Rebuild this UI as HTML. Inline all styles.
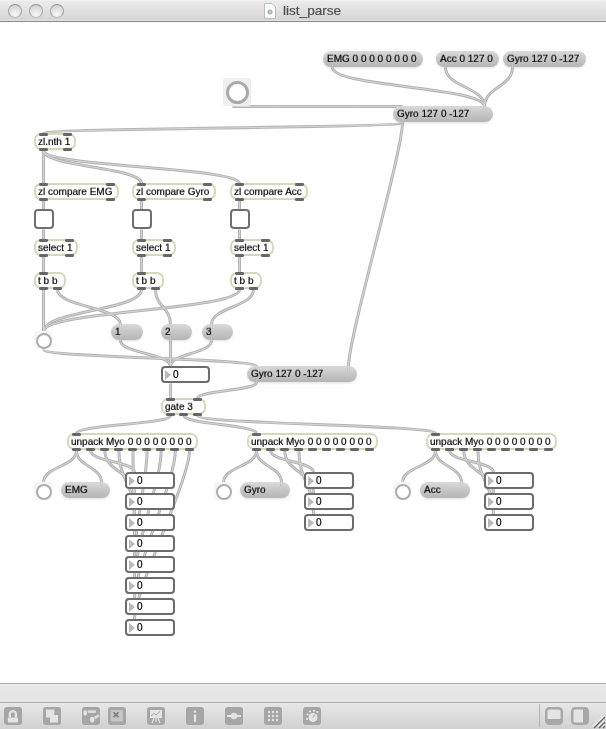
<!DOCTYPE html><html><head><meta charset="utf-8"><style>

*{box-sizing:border-box;margin:0;padding:0}
body *{will-change:transform}
html,body{width:606px;height:729px;overflow:hidden;background:#fff;font-family:"Liberation Sans", sans-serif}
.tb{position:absolute;left:0;top:0;width:606px;height:22px;background:linear-gradient(#f4f4f4 0,#ececec 1px,#d6d6d6 20px,#e2e2e2 20px);border-bottom:1px solid #8a8a8a}
.title{position:absolute;top:3px;left:283px;font-size:13.6px;color:#4e4e4e;-webkit-text-stroke:0.2px #4e4e4e}
.light{position:absolute;top:4px;width:13.5px;height:13.5px;border-radius:50%;background:radial-gradient(circle at 50% 78%,#f8f8f8,#dcdcdc 60%,#c6c6c6);border:1px solid;border-color:#969696 #a6a6a6 #b8b8b8}
.o{position:absolute;border:2px solid #d5d9bb;border-radius:7px;background:#fff;font-size:10px;line-height:13px;padding-left:2px;white-space:nowrap;color:#000;-webkit-text-stroke:0.2px #000}
.io{position:absolute;height:2.5px;width:9px;background:#676767;border-radius:1.25px}
.m{position:absolute;border-radius:8px;background:linear-gradient(#dadada,#c6c6c6 50%,#b5b5b5);box-shadow:0 1.5px 2px rgba(0,0,0,0.10);font-size:10px;white-space:nowrap;color:#000;padding-left:4px;-webkit-text-stroke:0.2px #000}
.tg{position:absolute;border:2px solid #6f6f6f;border-radius:4px;background:#fff}
.bg{position:absolute;background:#f6f6f6;border-radius:3px}
.bg i{position:absolute;border:2px solid #a8a8a8;border-radius:50%;background:#fff}
.nb{position:absolute;border:2px solid #6c6c6c;border-radius:4px;background:#fff;font-size:9.5px;white-space:nowrap;color:#000;-webkit-text-stroke:0.2px #000}
.nb b{position:absolute;left:2px;top:1.5px;width:0;height:0;border-top:5.5px solid transparent;border-bottom:5.5px solid transparent;border-left:6px solid #b9b9b9}
.nb span{position:absolute;left:10px;top:-0.5px;font-size:10px;line-height:13px}
svg{position:absolute;left:0;top:0}
.t{display:inline-block;transform:scaleY(0.92);transform-origin:50% 75%}
.bot1{position:absolute;left:0;top:683px;width:606px;height:20px;background:linear-gradient(#f2f2f2 0,#e8e8e8 1px,#e5e5e5);border-top:1px solid #a8a8a8;border-bottom:1px solid #acacac}
.bot2{position:absolute;left:0;top:703px;width:606px;height:26px;background:linear-gradient(#f0f0f0 0,#e6e6e6 1px,#d1d1d1)}
.ic{position:absolute;top:707px;width:18px;height:18px}

</style></head><body>
<div class="tb"></div>
<div class="light" style="left:8.25px"></div>
<div class="light" style="left:29.25px"></div>
<div class="light" style="left:50.25px"></div>
<div class="title">list_parse</div>
<svg width="606" height="729" viewBox="0 0 606 729"><path d="M232.5 106.5 C232.5 106.5 402.5 106.5 402.5 106.5" fill="none" stroke="#b3b3b3" stroke-width="3"/><path d="M332.5 67.5 C332.5 87.0 484.5 87.0 484.5 106.5" fill="none" stroke="#b3b3b3" stroke-width="3"/><path d="M445.5 67.5 C445.5 87.0 484.5 87.0 484.5 106.5" fill="none" stroke="#b3b3b3" stroke-width="3"/><path d="M512.5 67.5 C512.5 87.0 484.5 87.0 484.5 106.5" fill="none" stroke="#b3b3b3" stroke-width="3"/><path d="M402.5 122.5 C402.5 128.0 43.5 128.0 43.5 133.5" fill="none" stroke="#b3b3b3" stroke-width="3"/><path d="M402.5 122.5 C402.5 152.5 348.5 336.5 348.5 366.5" fill="none" stroke="#b3b3b3" stroke-width="3"/><path d="M43.5 150.5 L43.5 183.5" fill="none" stroke="#b3b3b3" stroke-width="3"/><path d="M43.5 150.5 C43.5 167.0 141.5 167.0 141.5 183.5" fill="none" stroke="#b3b3b3" stroke-width="3"/><path d="M43.5 150.5 C43.5 167.0 239.5 167.0 239.5 183.5" fill="none" stroke="#b3b3b3" stroke-width="3"/><path d="M43.5 200.5 L43.5 209.5" fill="none" stroke="#b3b3b3" stroke-width="3"/><path d="M43.5 229.5 L43.5 239.5" fill="none" stroke="#b3b3b3" stroke-width="3"/><path d="M43.5 256.5 L43.5 272.5" fill="none" stroke="#b3b3b3" stroke-width="3"/><path d="M43.5 289.5 L43.5 331.5" fill="none" stroke="#b3b3b3" stroke-width="3"/><path d="M57.5 289.5 C57.5 307.0 120.5 307.0 120.5 324.5" fill="none" stroke="#b3b3b3" stroke-width="3"/><path d="M120.5 340.5 C120.5 353.5 170.5 353.5 170.5 366.5" fill="none" stroke="#b3b3b3" stroke-width="3"/><path d="M141.5 200.5 L141.5 209.5" fill="none" stroke="#b3b3b3" stroke-width="3"/><path d="M141.5 229.5 L141.5 239.5" fill="none" stroke="#b3b3b3" stroke-width="3"/><path d="M141.5 256.5 L141.5 272.5" fill="none" stroke="#b3b3b3" stroke-width="3"/><path d="M141.5 289.5 C141.5 310.5 43.5 310.5 43.5 331.5" fill="none" stroke="#b3b3b3" stroke-width="3"/><path d="M155.5 289.5 C155.5 307.0 170.5 307.0 170.5 324.5" fill="none" stroke="#b3b3b3" stroke-width="3"/><path d="M170.5 340.5 L170.5 366.5" fill="none" stroke="#b3b3b3" stroke-width="3"/><path d="M239.5 200.5 L239.5 209.5" fill="none" stroke="#b3b3b3" stroke-width="3"/><path d="M239.5 229.5 L239.5 239.5" fill="none" stroke="#b3b3b3" stroke-width="3"/><path d="M239.5 256.5 L239.5 272.5" fill="none" stroke="#b3b3b3" stroke-width="3"/><path d="M239.5 289.5 C239.5 310.5 43.5 310.5 43.5 331.5" fill="none" stroke="#b3b3b3" stroke-width="3"/><path d="M253.5 289.5 C253.5 307.0 211.5 307.0 211.5 324.5" fill="none" stroke="#b3b3b3" stroke-width="3"/><path d="M211.5 340.5 C211.5 353.5 170.5 353.5 170.5 366.5" fill="none" stroke="#b3b3b3" stroke-width="3"/><path d="M43.5 349.5 C43.5 358.0 256.5 358.0 256.5 366.5" fill="none" stroke="#b3b3b3" stroke-width="3"/><path d="M170.5 383.5 L170.5 398.5" fill="none" stroke="#b3b3b3" stroke-width="3"/><path d="M256.5 382.5 C256.5 390.5 197.5 390.5 197.5 398.5" fill="none" stroke="#b3b3b3" stroke-width="3"/><path d="M170.5 415.5 C170.5 424.5 76.5 424.5 76.5 433.5" fill="none" stroke="#b3b3b3" stroke-width="3"/><path d="M184.0 415.5 C184.0 424.5 256.5 424.5 256.5 433.5" fill="none" stroke="#b3b3b3" stroke-width="3"/><path d="M197.5 415.5 C197.5 424.5 435.5 424.5 435.5 433.5" fill="none" stroke="#b3b3b3" stroke-width="3"/><path d="M76.5 450.5 C76.5 466.5 43.5 466.5 43.5 482.5" fill="none" stroke="#b3b3b3" stroke-width="3"/><path d="M76.5 450.5 C76.5 466.5 101.5 466.5 101.5 482.5" fill="none" stroke="#b3b3b3" stroke-width="3"/><path d="M90.6 450.5 C90.6 461.5 134.5 461.5 134.5 472.5" fill="none" stroke="#b3b3b3" stroke-width="3"/><path d="M104.8 450.5 C104.8 472.0 134.5 472.0 134.5 493.5" fill="none" stroke="#b3b3b3" stroke-width="3"/><path d="M118.9 450.5 C118.9 480.5 134.5 484.5 134.5 514.5" fill="none" stroke="#b3b3b3" stroke-width="3"/><path d="M133.0 450.5 C133.0 480.5 134.5 505.5 134.5 535.5" fill="none" stroke="#b3b3b3" stroke-width="3"/><path d="M147.1 450.5 C147.1 480.5 134.5 526.5 134.5 556.5" fill="none" stroke="#b3b3b3" stroke-width="3"/><path d="M161.2 450.5 C161.2 480.5 134.5 547.5 134.5 577.5" fill="none" stroke="#b3b3b3" stroke-width="3"/><path d="M175.4 450.5 C175.4 480.5 134.5 568.5 134.5 598.5" fill="none" stroke="#b3b3b3" stroke-width="3"/><path d="M189.5 450.5 C189.5 480.5 134.5 589.5 134.5 619.5" fill="none" stroke="#b3b3b3" stroke-width="3"/><path d="M256.5 450.5 C256.5 466.5 223.5 466.5 223.5 482.5" fill="none" stroke="#b3b3b3" stroke-width="3"/><path d="M256.5 450.5 C256.5 466.5 281.5 466.5 281.5 482.5" fill="none" stroke="#b3b3b3" stroke-width="3"/><path d="M270.6 450.5 C270.6 461.5 313.5 461.5 313.5 472.5" fill="none" stroke="#b3b3b3" stroke-width="3"/><path d="M284.8 450.5 C284.8 472.0 313.5 472.0 313.5 493.5" fill="none" stroke="#b3b3b3" stroke-width="3"/><path d="M298.9 450.5 C298.9 480.5 313.5 484.5 313.5 514.5" fill="none" stroke="#b3b3b3" stroke-width="3"/><path d="M435.5 450.5 C435.5 466.5 402.5 466.5 402.5 482.5" fill="none" stroke="#b3b3b3" stroke-width="3"/><path d="M435.5 450.5 C435.5 466.5 461.5 466.5 461.5 482.5" fill="none" stroke="#b3b3b3" stroke-width="3"/><path d="M449.6 450.5 C449.6 461.5 493.5 461.5 493.5 472.5" fill="none" stroke="#b3b3b3" stroke-width="3"/><path d="M463.8 450.5 C463.8 472.0 493.5 472.0 493.5 493.5" fill="none" stroke="#b3b3b3" stroke-width="3"/><path d="M477.9 450.5 C477.9 480.5 493.5 484.5 493.5 514.5" fill="none" stroke="#b3b3b3" stroke-width="3"/><path d="M232.5 106.5 C232.5 106.5 402.5 106.5 402.5 106.5" fill="none" stroke="#d6d6d6" stroke-width="1"/><path d="M332.5 67.5 C332.5 87.0 484.5 87.0 484.5 106.5" fill="none" stroke="#d6d6d6" stroke-width="1"/><path d="M445.5 67.5 C445.5 87.0 484.5 87.0 484.5 106.5" fill="none" stroke="#d6d6d6" stroke-width="1"/><path d="M512.5 67.5 C512.5 87.0 484.5 87.0 484.5 106.5" fill="none" stroke="#d6d6d6" stroke-width="1"/><path d="M402.5 122.5 C402.5 128.0 43.5 128.0 43.5 133.5" fill="none" stroke="#d6d6d6" stroke-width="1"/><path d="M402.5 122.5 C402.5 152.5 348.5 336.5 348.5 366.5" fill="none" stroke="#d6d6d6" stroke-width="1"/><path d="M43.5 150.5 L43.5 183.5" fill="none" stroke="#d6d6d6" stroke-width="1"/><path d="M43.5 150.5 C43.5 167.0 141.5 167.0 141.5 183.5" fill="none" stroke="#d6d6d6" stroke-width="1"/><path d="M43.5 150.5 C43.5 167.0 239.5 167.0 239.5 183.5" fill="none" stroke="#d6d6d6" stroke-width="1"/><path d="M43.5 200.5 L43.5 209.5" fill="none" stroke="#d6d6d6" stroke-width="1"/><path d="M43.5 229.5 L43.5 239.5" fill="none" stroke="#d6d6d6" stroke-width="1"/><path d="M43.5 256.5 L43.5 272.5" fill="none" stroke="#d6d6d6" stroke-width="1"/><path d="M43.5 289.5 L43.5 331.5" fill="none" stroke="#d6d6d6" stroke-width="1"/><path d="M57.5 289.5 C57.5 307.0 120.5 307.0 120.5 324.5" fill="none" stroke="#d6d6d6" stroke-width="1"/><path d="M120.5 340.5 C120.5 353.5 170.5 353.5 170.5 366.5" fill="none" stroke="#d6d6d6" stroke-width="1"/><path d="M141.5 200.5 L141.5 209.5" fill="none" stroke="#d6d6d6" stroke-width="1"/><path d="M141.5 229.5 L141.5 239.5" fill="none" stroke="#d6d6d6" stroke-width="1"/><path d="M141.5 256.5 L141.5 272.5" fill="none" stroke="#d6d6d6" stroke-width="1"/><path d="M141.5 289.5 C141.5 310.5 43.5 310.5 43.5 331.5" fill="none" stroke="#d6d6d6" stroke-width="1"/><path d="M155.5 289.5 C155.5 307.0 170.5 307.0 170.5 324.5" fill="none" stroke="#d6d6d6" stroke-width="1"/><path d="M170.5 340.5 L170.5 366.5" fill="none" stroke="#d6d6d6" stroke-width="1"/><path d="M239.5 200.5 L239.5 209.5" fill="none" stroke="#d6d6d6" stroke-width="1"/><path d="M239.5 229.5 L239.5 239.5" fill="none" stroke="#d6d6d6" stroke-width="1"/><path d="M239.5 256.5 L239.5 272.5" fill="none" stroke="#d6d6d6" stroke-width="1"/><path d="M239.5 289.5 C239.5 310.5 43.5 310.5 43.5 331.5" fill="none" stroke="#d6d6d6" stroke-width="1"/><path d="M253.5 289.5 C253.5 307.0 211.5 307.0 211.5 324.5" fill="none" stroke="#d6d6d6" stroke-width="1"/><path d="M211.5 340.5 C211.5 353.5 170.5 353.5 170.5 366.5" fill="none" stroke="#d6d6d6" stroke-width="1"/><path d="M43.5 349.5 C43.5 358.0 256.5 358.0 256.5 366.5" fill="none" stroke="#d6d6d6" stroke-width="1"/><path d="M170.5 383.5 L170.5 398.5" fill="none" stroke="#d6d6d6" stroke-width="1"/><path d="M256.5 382.5 C256.5 390.5 197.5 390.5 197.5 398.5" fill="none" stroke="#d6d6d6" stroke-width="1"/><path d="M170.5 415.5 C170.5 424.5 76.5 424.5 76.5 433.5" fill="none" stroke="#d6d6d6" stroke-width="1"/><path d="M184.0 415.5 C184.0 424.5 256.5 424.5 256.5 433.5" fill="none" stroke="#d6d6d6" stroke-width="1"/><path d="M197.5 415.5 C197.5 424.5 435.5 424.5 435.5 433.5" fill="none" stroke="#d6d6d6" stroke-width="1"/><path d="M76.5 450.5 C76.5 466.5 43.5 466.5 43.5 482.5" fill="none" stroke="#d6d6d6" stroke-width="1"/><path d="M76.5 450.5 C76.5 466.5 101.5 466.5 101.5 482.5" fill="none" stroke="#d6d6d6" stroke-width="1"/><path d="M90.6 450.5 C90.6 461.5 134.5 461.5 134.5 472.5" fill="none" stroke="#d6d6d6" stroke-width="1"/><path d="M104.8 450.5 C104.8 472.0 134.5 472.0 134.5 493.5" fill="none" stroke="#d6d6d6" stroke-width="1"/><path d="M118.9 450.5 C118.9 480.5 134.5 484.5 134.5 514.5" fill="none" stroke="#d6d6d6" stroke-width="1"/><path d="M133.0 450.5 C133.0 480.5 134.5 505.5 134.5 535.5" fill="none" stroke="#d6d6d6" stroke-width="1"/><path d="M147.1 450.5 C147.1 480.5 134.5 526.5 134.5 556.5" fill="none" stroke="#d6d6d6" stroke-width="1"/><path d="M161.2 450.5 C161.2 480.5 134.5 547.5 134.5 577.5" fill="none" stroke="#d6d6d6" stroke-width="1"/><path d="M175.4 450.5 C175.4 480.5 134.5 568.5 134.5 598.5" fill="none" stroke="#d6d6d6" stroke-width="1"/><path d="M189.5 450.5 C189.5 480.5 134.5 589.5 134.5 619.5" fill="none" stroke="#d6d6d6" stroke-width="1"/><path d="M256.5 450.5 C256.5 466.5 223.5 466.5 223.5 482.5" fill="none" stroke="#d6d6d6" stroke-width="1"/><path d="M256.5 450.5 C256.5 466.5 281.5 466.5 281.5 482.5" fill="none" stroke="#d6d6d6" stroke-width="1"/><path d="M270.6 450.5 C270.6 461.5 313.5 461.5 313.5 472.5" fill="none" stroke="#d6d6d6" stroke-width="1"/><path d="M284.8 450.5 C284.8 472.0 313.5 472.0 313.5 493.5" fill="none" stroke="#d6d6d6" stroke-width="1"/><path d="M298.9 450.5 C298.9 480.5 313.5 484.5 313.5 514.5" fill="none" stroke="#d6d6d6" stroke-width="1"/><path d="M435.5 450.5 C435.5 466.5 402.5 466.5 402.5 482.5" fill="none" stroke="#d6d6d6" stroke-width="1"/><path d="M435.5 450.5 C435.5 466.5 461.5 466.5 461.5 482.5" fill="none" stroke="#d6d6d6" stroke-width="1"/><path d="M449.6 450.5 C449.6 461.5 493.5 461.5 493.5 472.5" fill="none" stroke="#d6d6d6" stroke-width="1"/><path d="M463.8 450.5 C463.8 472.0 493.5 472.0 493.5 493.5" fill="none" stroke="#d6d6d6" stroke-width="1"/><path d="M477.9 450.5 C477.9 480.5 493.5 484.5 493.5 514.5" fill="none" stroke="#d6d6d6" stroke-width="1"/></svg>
<div class="o" style="left:34px;top:133px;width:42px;height:17px"><span class="t">zl.nth 1</span></div>
<div class="io" style="left:38.5px;top:133px"></div>
<div class="io" style="left:62.5px;top:133px"></div>
<div class="io" style="left:38.5px;top:147.5px"></div>
<div class="io" style="left:62.5px;top:147.5px"></div>
<div class="o" style="left:34px;top:183px;width:85px;height:17px"><span class="t">zl compare EMG</span></div>
<div class="io" style="left:38.5px;top:183px"></div>
<div class="io" style="left:105.5px;top:183px"></div>
<div class="io" style="left:38.5px;top:197.5px"></div>
<div class="io" style="left:105.5px;top:197.5px"></div>
<div class="o" style="left:132px;top:183px;width:84px;height:17px"><span class="t">zl compare Gyro</span></div>
<div class="io" style="left:136.5px;top:183px"></div>
<div class="io" style="left:202.5px;top:183px"></div>
<div class="io" style="left:136.5px;top:197.5px"></div>
<div class="io" style="left:202.5px;top:197.5px"></div>
<div class="o" style="left:230px;top:183px;width:78px;height:17px"><span class="t">zl compare Acc</span></div>
<div class="io" style="left:234.5px;top:183px"></div>
<div class="io" style="left:294.5px;top:183px"></div>
<div class="io" style="left:234.5px;top:197.5px"></div>
<div class="io" style="left:294.5px;top:197.5px"></div>
<div class="o" style="left:34px;top:239px;width:44px;height:17px"><span class="t">select 1</span></div>
<div class="io" style="left:38.5px;top:239px"></div>
<div class="io" style="left:64.5px;top:239px"></div>
<div class="io" style="left:38.5px;top:253.5px"></div>
<div class="io" style="left:64.5px;top:253.5px"></div>
<div class="o" style="left:34px;top:272px;width:32px;height:17px"><span class="t">t b b</span></div>
<div class="io" style="left:38.5px;top:272px"></div>
<div class="io" style="left:38.5px;top:286.5px"></div>
<div class="io" style="left:52.5px;top:286.5px"></div>
<div class="o" style="left:132px;top:239px;width:44px;height:17px"><span class="t">select 1</span></div>
<div class="io" style="left:136.5px;top:239px"></div>
<div class="io" style="left:162.5px;top:239px"></div>
<div class="io" style="left:136.5px;top:253.5px"></div>
<div class="io" style="left:162.5px;top:253.5px"></div>
<div class="o" style="left:132px;top:272px;width:32px;height:17px"><span class="t">t b b</span></div>
<div class="io" style="left:136.5px;top:272px"></div>
<div class="io" style="left:136.5px;top:286.5px"></div>
<div class="io" style="left:150.5px;top:286.5px"></div>
<div class="o" style="left:230px;top:239px;width:44px;height:17px"><span class="t">select 1</span></div>
<div class="io" style="left:234.5px;top:239px"></div>
<div class="io" style="left:260.5px;top:239px"></div>
<div class="io" style="left:234.5px;top:253.5px"></div>
<div class="io" style="left:260.5px;top:253.5px"></div>
<div class="o" style="left:230px;top:272px;width:32px;height:17px"><span class="t">t b b</span></div>
<div class="io" style="left:234.5px;top:272px"></div>
<div class="io" style="left:234.5px;top:286.5px"></div>
<div class="io" style="left:248.5px;top:286.5px"></div>
<div class="o" style="left:161px;top:398px;width:45px;height:17px"><span class="t">gate 3</span></div>
<div class="io" style="left:165.5px;top:398px"></div>
<div class="io" style="left:192.5px;top:398px"></div>
<div class="io" style="left:165.5px;top:412.5px"></div>
<div class="io" style="left:179.0px;top:412.5px"></div>
<div class="io" style="left:192.5px;top:412.5px"></div>
<div class="o" style="left:67px;top:433px;width:131px;height:17px"><span class="t">unpack Myo 0 0 0 0 0 0 0 0</span></div>
<div class="io" style="left:71.5px;top:433px"></div>
<div class="io" style="left:71.5px;top:447.5px"></div>
<div class="io" style="left:85.6px;top:447.5px"></div>
<div class="io" style="left:99.8px;top:447.5px"></div>
<div class="io" style="left:113.9px;top:447.5px"></div>
<div class="io" style="left:128.0px;top:447.5px"></div>
<div class="io" style="left:142.1px;top:447.5px"></div>
<div class="io" style="left:156.2px;top:447.5px"></div>
<div class="io" style="left:170.4px;top:447.5px"></div>
<div class="io" style="left:184.5px;top:447.5px"></div>
<div class="o" style="left:247px;top:433px;width:131px;height:17px"><span class="t">unpack Myo 0 0 0 0 0 0 0 0</span></div>
<div class="io" style="left:251.5px;top:433px"></div>
<div class="io" style="left:251.5px;top:447.5px"></div>
<div class="io" style="left:265.6px;top:447.5px"></div>
<div class="io" style="left:279.8px;top:447.5px"></div>
<div class="io" style="left:293.9px;top:447.5px"></div>
<div class="io" style="left:308.0px;top:447.5px"></div>
<div class="io" style="left:322.1px;top:447.5px"></div>
<div class="io" style="left:336.2px;top:447.5px"></div>
<div class="io" style="left:350.4px;top:447.5px"></div>
<div class="io" style="left:364.5px;top:447.5px"></div>
<div class="o" style="left:426px;top:433px;width:131px;height:17px"><span class="t">unpack Myo 0 0 0 0 0 0 0 0</span></div>
<div class="io" style="left:430.5px;top:433px"></div>
<div class="io" style="left:430.5px;top:447.5px"></div>
<div class="io" style="left:444.6px;top:447.5px"></div>
<div class="io" style="left:458.8px;top:447.5px"></div>
<div class="io" style="left:472.9px;top:447.5px"></div>
<div class="io" style="left:487.0px;top:447.5px"></div>
<div class="io" style="left:501.1px;top:447.5px"></div>
<div class="io" style="left:515.2px;top:447.5px"></div>
<div class="io" style="left:529.4px;top:447.5px"></div>
<div class="io" style="left:543.5px;top:447.5px"></div>
<div class="m" style="left:323px;top:51px;width:100px;height:16px"></div>
<div class="m" style="left:436px;top:51px;width:63px;height:16px"></div>
<div class="m" style="left:503px;top:51px;width:83px;height:16px"></div>
<div class="m" style="left:393px;top:106px;width:100px;height:16px"></div>
<div class="m" style="left:111px;top:324px;width:32px;height:16px"></div>
<div class="m" style="left:161px;top:324px;width:31px;height:16px"></div>
<div class="m" style="left:202px;top:324px;width:31px;height:16px"></div>
<div class="m" style="left:247px;top:366px;width:110px;height:16px"></div>
<div class="m" style="left:61px;top:482px;width:49px;height:16px"></div>
<div class="m" style="left:240px;top:482px;width:50px;height:16px"></div>
<div class="m" style="left:420px;top:482px;width:50px;height:16px"></div>
<svg width="606" height="729" viewBox="0 0 606 729" style="opacity:0.3"><path d="M402.5 106.5L402.5 111" stroke="#b3b3b3" stroke-width="3"/><path d="M402.5 106.5L402.5 111" stroke="#e2e2e2" stroke-width="1"/><path d="M332.5 62L332.5 67.5" stroke="#b3b3b3" stroke-width="3"/><path d="M332.5 62L332.5 67.5" stroke="#e2e2e2" stroke-width="1"/><path d="M484.5 106.5L484.5 111" stroke="#b3b3b3" stroke-width="3"/><path d="M484.5 106.5L484.5 111" stroke="#e2e2e2" stroke-width="1"/><path d="M445.5 62L445.5 67.5" stroke="#b3b3b3" stroke-width="3"/><path d="M445.5 62L445.5 67.5" stroke="#e2e2e2" stroke-width="1"/><path d="M484.5 106.5L484.5 111" stroke="#b3b3b3" stroke-width="3"/><path d="M484.5 106.5L484.5 111" stroke="#e2e2e2" stroke-width="1"/><path d="M512.5 62L512.5 67.5" stroke="#b3b3b3" stroke-width="3"/><path d="M512.5 62L512.5 67.5" stroke="#e2e2e2" stroke-width="1"/><path d="M484.5 106.5L484.5 111" stroke="#b3b3b3" stroke-width="3"/><path d="M484.5 106.5L484.5 111" stroke="#e2e2e2" stroke-width="1"/><path d="M402.5 117L402.5 122.5" stroke="#b3b3b3" stroke-width="3"/><path d="M402.5 117L402.5 122.5" stroke="#e2e2e2" stroke-width="1"/><path d="M402.5 117L402.5 122.5" stroke="#b3b3b3" stroke-width="3"/><path d="M402.5 117L402.5 122.5" stroke="#e2e2e2" stroke-width="1"/><path d="M348.5 366.5L348.5 371" stroke="#b3b3b3" stroke-width="3"/><path d="M348.5 366.5L348.5 371" stroke="#e2e2e2" stroke-width="1"/><path d="M120.5 324.5L120.5 329" stroke="#b3b3b3" stroke-width="3"/><path d="M120.5 324.5L120.5 329" stroke="#e2e2e2" stroke-width="1"/><path d="M120.5 335L120.5 340.5" stroke="#b3b3b3" stroke-width="3"/><path d="M120.5 335L120.5 340.5" stroke="#e2e2e2" stroke-width="1"/><path d="M170.5 324.5L170.5 329" stroke="#b3b3b3" stroke-width="3"/><path d="M170.5 324.5L170.5 329" stroke="#e2e2e2" stroke-width="1"/><path d="M170.5 335L170.5 340.5" stroke="#b3b3b3" stroke-width="3"/><path d="M170.5 335L170.5 340.5" stroke="#e2e2e2" stroke-width="1"/><path d="M211.5 324.5L211.5 329" stroke="#b3b3b3" stroke-width="3"/><path d="M211.5 324.5L211.5 329" stroke="#e2e2e2" stroke-width="1"/><path d="M211.5 335L211.5 340.5" stroke="#b3b3b3" stroke-width="3"/><path d="M211.5 335L211.5 340.5" stroke="#e2e2e2" stroke-width="1"/><path d="M256.5 366.5L256.5 371" stroke="#b3b3b3" stroke-width="3"/><path d="M256.5 366.5L256.5 371" stroke="#e2e2e2" stroke-width="1"/><path d="M256.5 377L256.5 382.5" stroke="#b3b3b3" stroke-width="3"/><path d="M256.5 377L256.5 382.5" stroke="#e2e2e2" stroke-width="1"/><path d="M101.5 482.5L101.5 487" stroke="#b3b3b3" stroke-width="3"/><path d="M101.5 482.5L101.5 487" stroke="#e2e2e2" stroke-width="1"/><path d="M281.5 482.5L281.5 487" stroke="#b3b3b3" stroke-width="3"/><path d="M281.5 482.5L281.5 487" stroke="#e2e2e2" stroke-width="1"/><path d="M461.5 482.5L461.5 487" stroke="#b3b3b3" stroke-width="3"/><path d="M461.5 482.5L461.5 487" stroke="#e2e2e2" stroke-width="1"/></svg>
<div class="m" style="left:323px;top:51px;width:100px;height:16px;line-height:15px;background:none;box-shadow:none"><span class="t">EMG 0 0 0 0 0 0 0 0</span></div>
<div class="m" style="left:436px;top:51px;width:63px;height:16px;line-height:15px;background:none;box-shadow:none"><span class="t">Acc 0 127 0</span></div>
<div class="m" style="left:503px;top:51px;width:83px;height:16px;line-height:15px;background:none;box-shadow:none"><span class="t">Gyro 127 0 -127</span></div>
<div class="m" style="left:393px;top:106px;width:100px;height:16px;line-height:15px;background:none;box-shadow:none"><span class="t">Gyro 127 0 -127</span></div>
<div class="m" style="left:111px;top:324px;width:32px;height:16px;line-height:15px;background:none;box-shadow:none"><span class="t">1</span></div>
<div class="m" style="left:161px;top:324px;width:31px;height:16px;line-height:15px;background:none;box-shadow:none"><span class="t">2</span></div>
<div class="m" style="left:202px;top:324px;width:31px;height:16px;line-height:15px;background:none;box-shadow:none"><span class="t">3</span></div>
<div class="m" style="left:247px;top:366px;width:110px;height:16px;line-height:15px;background:none;box-shadow:none"><span class="t">Gyro 127 0 -127</span></div>
<div class="m" style="left:61px;top:482px;width:49px;height:16px;line-height:15px;background:none;box-shadow:none"><span class="t">EMG</span></div>
<div class="m" style="left:240px;top:482px;width:50px;height:16px;line-height:15px;background:none;box-shadow:none"><span class="t">Gyro</span></div>
<div class="m" style="left:420px;top:482px;width:50px;height:16px;line-height:15px;background:none;box-shadow:none"><span class="t">Acc</span></div>
<div class="tg" style="left:34px;top:209px;width:20px;height:20px"></div>
<div class="tg" style="left:132px;top:209px;width:20px;height:20px"></div>
<div class="tg" style="left:230px;top:209px;width:20px;height:20px"></div>
<div class="bg" style="left:223px;top:78px;width:28px;height:28px;background:#efefef"><i style="left:3px;top:3px;width:23px;height:23px;border-width:3px;border-color:#aaaaaa"></i></div>
<div class="bg" style="left:34px;top:331px;width:18px;height:18px"><i style="left:1.5px;top:1.5px;width:16px;height:16px;border-width:2px;border-color:#adadad"></i></div>
<div class="bg" style="left:34px;top:482px;width:18px;height:18px"><i style="left:1.5px;top:1.5px;width:16px;height:16px;border-width:2px;border-color:#adadad"></i></div>
<div class="bg" style="left:214px;top:482px;width:18px;height:18px"><i style="left:1.5px;top:1.5px;width:16px;height:16px;border-width:2px;border-color:#adadad"></i></div>
<div class="bg" style="left:393px;top:482px;width:18px;height:18px"><i style="left:1.5px;top:1.5px;width:16px;height:16px;border-width:2px;border-color:#adadad"></i></div>
<div class="nb" style="left:161px;top:366px;width:49px;height:17px"><b></b><span>0</span></div>
<div class="nb" style="left:125px;top:472px;width:50px;height:17px"><b></b><span>0</span></div>
<div class="nb" style="left:125px;top:493px;width:50px;height:17px"><b></b><span>0</span></div>
<div class="nb" style="left:125px;top:514px;width:50px;height:17px"><b></b><span>0</span></div>
<div class="nb" style="left:125px;top:535px;width:50px;height:17px"><b></b><span>0</span></div>
<div class="nb" style="left:125px;top:556px;width:50px;height:17px"><b></b><span>0</span></div>
<div class="nb" style="left:125px;top:577px;width:50px;height:17px"><b></b><span>0</span></div>
<div class="nb" style="left:125px;top:598px;width:50px;height:17px"><b></b><span>0</span></div>
<div class="nb" style="left:125px;top:619px;width:50px;height:17px"><b></b><span>0</span></div>
<div class="nb" style="left:304px;top:472px;width:50px;height:17px"><b></b><span>0</span></div>
<div class="nb" style="left:484px;top:472px;width:50px;height:17px"><b></b><span>0</span></div>
<div class="nb" style="left:304px;top:493px;width:50px;height:17px"><b></b><span>0</span></div>
<div class="nb" style="left:484px;top:493px;width:50px;height:17px"><b></b><span>0</span></div>
<div class="nb" style="left:304px;top:514px;width:50px;height:17px"><b></b><span>0</span></div>
<div class="nb" style="left:484px;top:514px;width:50px;height:17px"><b></b><span>0</span></div>
<div class="bot1"></div><div class="bot2"></div>
<svg class="ic" style="left:4px" width="18" height="18" viewBox="0 0 18 18"><rect width="18" height="18" rx="3" fill="#a6a6a6"/><path d="M5.8 10.5V7.2a3.05 3.05 0 0 1 6.1 0V10.5" fill="none" stroke="#e4e4e4" stroke-width="2.4"/><rect x="3.9" y="10.4" width="10.1" height="5.2" rx="0.8" fill="#e4e4e4"/></svg>
<svg class="ic" style="left:43px" width="18" height="18" viewBox="0 0 18 18"><rect width="18" height="18" rx="3" fill="#a6a6a6"/><path d="M3 2.5H11.3V8H15V15.6H7V10.5H3Z" fill="#e4e4e4"/></svg>
<svg class="ic" style="left:82px" width="18" height="18" viewBox="0 0 18 18"><rect width="18" height="18" rx="3" fill="#a6a6a6"/><ellipse cx="3.2" cy="5.9" rx="1.8" ry="2.8" fill="#e4e4e4"/><rect x="5.5" y="3.2" width="8.5" height="2.9" rx="1" fill="#e4e4e4" opacity="0.85"/><ellipse cx="10.2" cy="12.6" rx="2.2" ry="2.9" fill="#e4e4e4"/><path d="M12.5 11.2L17 8.2" stroke="#e4e4e4" stroke-width="2.6" opacity="0.85"/></svg>
<svg class="ic" style="left:108px" width="18" height="18" viewBox="0 0 18 18"><rect width="18" height="18" rx="3" fill="#a6a6a6"/><rect x="2.7" y="3" width="12.1" height="11.4" rx="0.8" fill="#c6c6c6"/><path d="M5.5 5.2L10.5 10.2M10.5 5.2L5.5 10.2" stroke="#787878" stroke-width="1.6"/></svg>
<svg class="ic" style="left:147px" width="18" height="18" viewBox="0 0 18 18"><rect width="18" height="18" rx="3" fill="#a6a6a6"/><rect x="3" y="3" width="12" height="8" fill="#e4e4e4"/><path d="M4 9L7 6.5L9 8L13 4.5" fill="none" stroke="#999" stroke-width="0.8"/><path d="M7 11L5 16M11 11L13 16M9 11V15" stroke="#e4e4e4" stroke-width="1.2"/></svg>
<svg class="ic" style="left:186px" width="18" height="18" viewBox="0 0 18 18"><rect width="18" height="18" rx="3" fill="#a6a6a6"/><circle cx="9" cy="4.6" r="1.3" fill="#e4e4e4"/><rect x="7.9" y="7.3" width="2.2" height="7.7" fill="#e4e4e4"/></svg>
<svg class="ic" style="left:225px" width="18" height="18" viewBox="0 0 18 18"><rect width="18" height="18" rx="3" fill="#a6a6a6"/><path d="M2 9H16" stroke="#e4e4e4" stroke-width="2"/><circle cx="9" cy="9" r="3.2" fill="#e4e4e4"/></svg>
<svg class="ic" style="left:264px" width="18" height="18" viewBox="0 0 18 18"><rect width="18" height="18" rx="3" fill="#a6a6a6"/><circle cx="5" cy="5" r="1.2" fill="#e4e4e4"/><circle cx="5" cy="9" r="1.2" fill="#e4e4e4"/><circle cx="5" cy="13" r="1.2" fill="#e4e4e4"/><circle cx="9" cy="5" r="1.2" fill="#e4e4e4"/><circle cx="9" cy="9" r="1.2" fill="#e4e4e4"/><circle cx="9" cy="13" r="1.2" fill="#e4e4e4"/><circle cx="13" cy="5" r="1.2" fill="#e4e4e4"/><circle cx="13" cy="9" r="1.2" fill="#e4e4e4"/><circle cx="13" cy="13" r="1.2" fill="#e4e4e4"/></svg>
<svg class="ic" style="left:303px" width="18" height="18" viewBox="0 0 18 18"><rect width="18" height="18" rx="3" fill="#a6a6a6"/><circle cx="10" cy="10.5" r="4.5" fill="#e4e4e4"/><path d="M10 10.5L12 7.5" stroke="#999" stroke-width="0.8"/><circle cx="4" cy="12" r="1.1" fill="#e4e4e4"/><circle cx="4.5" cy="7.5" r="1.1" fill="#e4e4e4"/><circle cx="7" cy="4.5" r="1.1" fill="#e4e4e4"/><circle cx="11" cy="3.8" r="1.1" fill="#e4e4e4"/><circle cx="14.5" cy="5" r="1.1" fill="#e4e4e4"/></svg>
<div style="position:absolute;left:539px;top:704px;width:1px;height:23px;background:#b4b4b4"></div>
<svg class="ic" style="left:545px" width="18" height="18" viewBox="0 0 18 18"><rect x="1.25" y="1.25" width="15.5" height="15.5" rx="3" fill="#e4e4e4" stroke="#a8a8a8" stroke-width="2.5"/><rect x="2" y="12" width="14" height="4" fill="#a8a8a8"/></svg>
<svg class="ic" style="left:571px" width="18" height="18" viewBox="0 0 18 18"><rect x="1.25" y="1.25" width="15.5" height="15.5" rx="3" fill="#e4e4e4" stroke="#a8a8a8" stroke-width="2.5"/><rect x="12" y="2" width="4" height="14" fill="#a8a8a8"/></svg>
<svg style="position:absolute;left:590px;top:712px" width="16" height="17" viewBox="590 712 16 17"><path d="M593 727L604 716M598 727L604 721M602 727L604.5 724.5" stroke="#f6f6f6" stroke-width="1.2"/><path d="M594 728L605 717M599 728L605 722M603 728L605 726" stroke="#5e5e5e" stroke-width="1.3"/></svg>
<svg style="position:absolute;left:264px;top:3px" width="12" height="16" viewBox="0 0 12 16"><path d="M0.5 0.5H8L11.5 4V15.5H0.5Z" fill="#fbfbfb" stroke="#bdbdbd"/><circle cx="6" cy="9" r="2.5" fill="#9fb4c8"/><circle cx="6" cy="9" r="1" fill="#e8d890"/></svg>
</body></html>
